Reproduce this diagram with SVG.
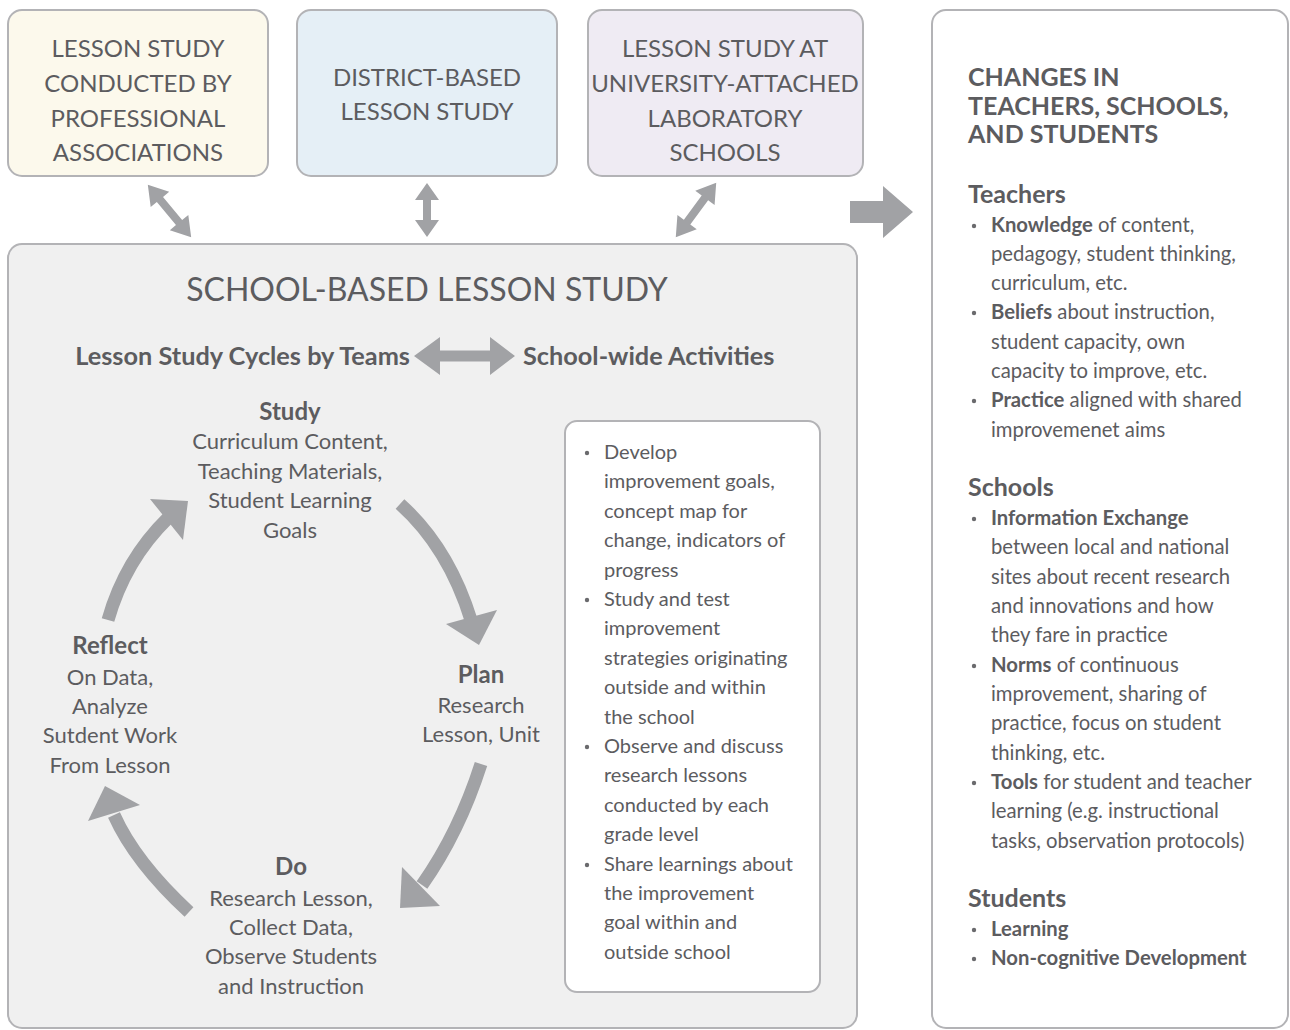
<svg xmlns="http://www.w3.org/2000/svg" width="1290" height="1030" viewBox="0 0 1290 1030">
<style>
.box{stroke:#b3b3b6;stroke-width:2}
.t{font-family:Lato,"Open Sans","Liberation Sans",sans-serif;fill:#5c5c5f}
.cap{font-size:24px;text-anchor:middle}
.c{text-anchor:middle}
.h{font-size:24px;font-weight:700}
.sub{font-size:25.3px;font-weight:700}
.hr{font-size:25px;font-weight:700}
.b{font-size:22px}
.a{font-size:20px}
.r{font-size:20.3px}
.bold{font-weight:700}
.arr{fill:#a1a2a5}
.cyc{fill:none;stroke:#a1a2a5;stroke-width:13}
.dot{fill:#6a6a6d}
</style>
<rect width="1290" height="1030" fill="#ffffff"/>

<g id="node-professional">
<rect class="box" x="8" y="10" width="260" height="166" rx="14" fill="#fcf9ec"/>
<text class="t cap" x="138"><tspan x="138" y="57">LESSON STUDY</tspan><tspan x="138" y="92">CONDUCTED BY</tspan><tspan x="138" y="127">PROFESSIONAL</tspan><tspan x="138" y="161">ASSOCIATIONS</tspan></text>
</g>
<g id="node-district">
<rect class="box" x="297" y="10" width="260" height="166" rx="14" fill="#e5eff6"/>
<text class="t cap"><tspan x="427" y="86">DISTRICT-BASED</tspan><tspan x="427" y="120">LESSON STUDY</tspan></text>
</g>
<g id="node-university">
<rect class="box" x="588" y="10" width="275" height="166" rx="14" fill="#efebf3"/>
<text class="t cap"><tspan x="725" y="57">LESSON STUDY AT</tspan><tspan x="725" y="92">UNIVERSITY-ATTACHED</tspan><tspan x="725" y="127">LABORATORY</tspan><tspan x="725" y="161">SCHOOLS</tspan></text>
</g>

<g id="node-school">
<rect class="box" x="8" y="244" width="849" height="784" rx="14" fill="#f0f0f0"/>
<text class="t c" x="427" y="301" font-size="32">SCHOOL-BASED LESSON STUDY</text>
<text class="t sub" x="410" y="364.5" text-anchor="end">Lesson Study Cycles by Teams</text>
<text class="t sub" x="523" y="364.5">School-wide Activities</text>
</g>

<g id="node-study">
<text class="t c h" x="290" y="420">Study</text>
<text class="t c b"><tspan x="290" y="449">Curriculum Content,</tspan><tspan x="290" y="479">Teaching Materials,</tspan><tspan x="290" y="508">Student Learning</tspan><tspan x="290" y="538">Goals</tspan></text>
</g>
<g id="node-plan">
<text class="t c h" x="481" y="683">Plan</text>
<text class="t c b"><tspan x="481" y="713">Research</tspan><tspan x="481" y="742">Lesson, Unit</tspan></text>
</g>
<g id="node-do">
<text class="t c h" x="291" y="875">Do</text>
<text class="t c b"><tspan x="291" y="906">Research Lesson,</tspan><tspan x="291" y="935">Collect Data,</tspan><tspan x="291" y="964">Observe Students</tspan><tspan x="291" y="994">and Instruction</tspan></text>
</g>
<g id="node-reflect">
<text class="t c h" x="110" y="654">Reflect</text>
<text class="t c b"><tspan x="110" y="685">On Data,</tspan><tspan x="110" y="714">Analyze</tspan><tspan x="110" y="743">Sutdent Work</tspan><tspan x="110" y="773">From Lesson</tspan></text>
</g>

<g id="node-activities">
<rect class="box" x="565" y="421" width="255" height="571" rx="12" fill="#ffffff"/>
<circle class="dot" cx="587" cy="453" r="2.2"/>
<circle class="dot" cx="587" cy="600" r="2.2"/>
<circle class="dot" cx="587" cy="747" r="2.2"/>
<circle class="dot" cx="587" cy="865" r="2.2"/>
<text class="t a">
<tspan x="604" y="459">Develop</tspan>
<tspan x="604" y="488.4">improvement goals,</tspan>
<tspan x="604" y="517.8">concept map for</tspan>
<tspan x="604" y="547.2">change, indicators of</tspan>
<tspan x="604" y="576.6">progress</tspan>
<tspan x="604" y="606">Study and test</tspan>
<tspan x="604" y="635.4">improvement</tspan>
<tspan x="604" y="664.8">strategies originating</tspan>
<tspan x="604" y="694.2">outside and within</tspan>
<tspan x="604" y="723.6">the school</tspan>
<tspan x="604" y="753">Observe and discuss</tspan>
<tspan x="604" y="782.4">research lessons</tspan>
<tspan x="604" y="811.8">conducted by each</tspan>
<tspan x="604" y="841.2">grade level</tspan>
<tspan x="604" y="870.6">Share learnings about</tspan>
<tspan x="604" y="900">the improvement</tspan>
<tspan x="604" y="929.4">goal within and</tspan>
<tspan x="604" y="958.8">outside school</tspan>
</text>
</g>

<g id="node-changes">
<rect class="box" x="932" y="10" width="356" height="1018" rx="14" fill="#ffffff"/>
<text class="t hr"><tspan x="968" y="86">CHANGES IN</tspan><tspan x="968" y="115">TEACHERS, SCHOOLS,</tspan><tspan x="968" y="143">AND STUDENTS</tspan></text>
<text class="t hr" x="968" y="203">Teachers</text>
<text class="t hr" x="968" y="496">Schools</text>
<text class="t hr" x="968" y="907">Students</text>
<circle class="dot" cx="974" cy="226" r="2.2"/>
<circle class="dot" cx="974" cy="313" r="2.2"/>
<circle class="dot" cx="974" cy="401" r="2.2"/>
<circle class="dot" cx="974" cy="519" r="2.2"/>
<circle class="dot" cx="974" cy="666" r="2.2"/>
<circle class="dot" cx="974" cy="783" r="2.2"/>
<circle class="dot" cx="974" cy="930" r="2.2"/>
<circle class="dot" cx="974" cy="959" r="2.2"/>
<text class="t r">
<tspan x="991" y="232"><tspan class="bold">Knowledge</tspan> of content,</tspan>
<tspan x="991" y="261">pedagogy, student thinking,</tspan>
<tspan x="991" y="290">curriculum, etc.</tspan>
<tspan x="991" y="319"><tspan class="bold">Beliefs</tspan> about instruction,</tspan>
<tspan x="991" y="349">student capacity, own</tspan>
<tspan x="991" y="378">capacity to improve, etc.</tspan>
<tspan x="991" y="407"><tspan class="bold">Practice</tspan> aligned with shared</tspan>
<tspan x="991" y="437">improvemenet aims</tspan>
<tspan x="991" y="525" class="bold">Information Exchange</tspan>
<tspan x="991" y="554">between local and national</tspan>
<tspan x="991" y="584">sites about recent research</tspan>
<tspan x="991" y="613">and innovations and how</tspan>
<tspan x="991" y="642">they fare in practice</tspan>
<tspan x="991" y="672"><tspan class="bold">Norms</tspan> of continuous</tspan>
<tspan x="991" y="701">improvement, sharing of</tspan>
<tspan x="991" y="730">practice, focus on student</tspan>
<tspan x="991" y="760">thinking, etc.</tspan>
<tspan x="991" y="789"><tspan class="bold">Tools</tspan> for student and teacher</tspan>
<tspan x="991" y="818">learning (e.g. instructional</tspan>
<tspan x="991" y="848">tasks, observation protocols)</tspan>
<tspan x="991" y="936" class="bold">Learning</tspan>
<tspan x="991" y="965" class="bold">Non-cognitive Development</tspan>
</text>
</g>

<g id="connectors">
<polygon class="arr" transform="translate(169.5 211) rotate(50.4)" points="-34,0 -15,-12 -15,-4 15,-4 15,-12 34,0 15,12 15,4 -15,4 -15,12"/>
<polygon class="arr" transform="translate(427 210) rotate(90)" points="-27,0 -10,-12 -10,-4 10,-4 10,-12 27,0 10,12 10,4 -10,4 -10,12"/>
<polygon class="arr" transform="translate(696 210) rotate(126.5)" points="-34,0 -15,-12 -15,-4 15,-4 15,-12 34,0 15,12 15,4 -15,4 -15,12"/>
<polygon class="arr" points="850,201 883,201 883,186 913,212 883,238 883,223 850,223"/>
<polygon class="arr" points="414,356 440,337 440,350.5 490,350.5 490,337 515,356 490,375 490,361.5 440,361.5 440,375"/>

<path class="cyc" d="M108,620 Q125,560 168,518"/>
<polygon class="arr" points="150,499 188,501 183,540"/>
<path class="cyc" d="M400,504 Q448.5,547.5 471,620"/>
<polygon class="arr" points="446,624 497,610 479,645"/>
<path class="cyc" d="M481,764 Q459,832.5 422,885"/>
<polygon class="arr" points="402,867 440,906 400,908"/>
<path class="cyc" d="M189,912 Q135,862 114,815"/>
<polygon class="arr" points="88,821 105,786 140,805"/>
</g>
</svg>
